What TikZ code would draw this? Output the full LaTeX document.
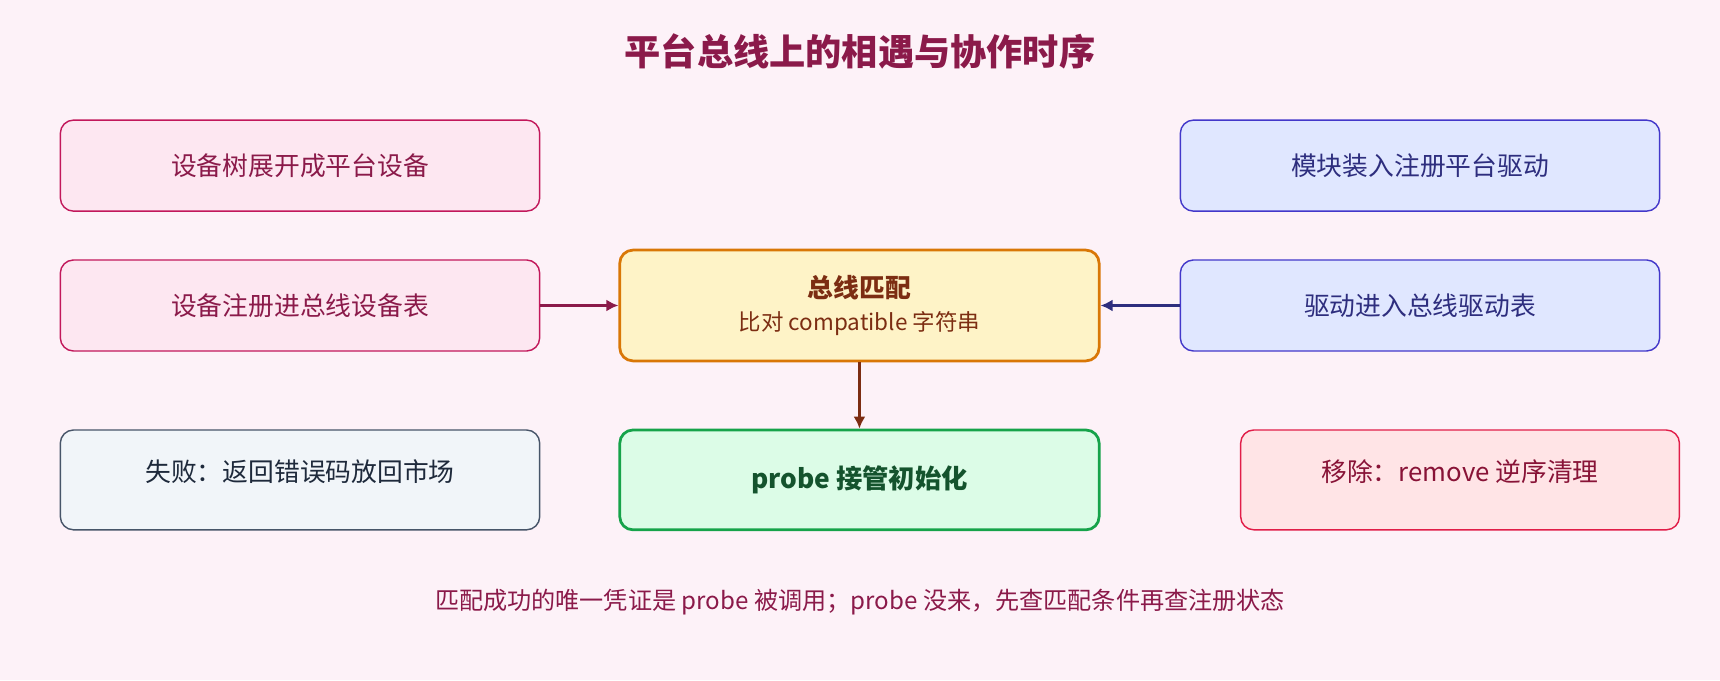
\documentclass[tikz,border=0pt]{standalone}
\usepackage{fontspec}
\setmainfont{Noto Sans CJK SC}
\usetikzlibrary{arrows.meta}
\definecolor{bg}{HTML}{FDF2F8}
\definecolor{titlec}{HTML}{8B1A4A}
\definecolor{pinkf}{HTML}{FDE7F1}\definecolor{pinkd}{HTML}{C2185B}\definecolor{pinkt}{HTML}{8B1A4A}
\definecolor{bluef}{HTML}{E0E7FF}\definecolor{blued}{HTML}{4338CA}\definecolor{bluet}{HTML}{2E2E7E}
\definecolor{yelf}{HTML}{FEF3C7}\definecolor{yeld}{HTML}{D97706}\definecolor{yelt}{HTML}{7C2D12}
\definecolor{grnf}{HTML}{DCFCE7}\definecolor{grnd}{HTML}{16A34A}\definecolor{grnt}{HTML}{14532D}
\definecolor{grayf}{HTML}{F1F5F9}\definecolor{grayd}{HTML}{475569}\definecolor{grayt}{HTML}{1E293B}
\definecolor{redf}{HTML}{FFE4E6}\definecolor{redd}{HTML}{E11D48}\definecolor{redt}{HTML}{881337}
\begin{document}
\begin{tikzpicture}[x=1pt,y=-1pt,
 box/.style={draw,rounded corners=12pt,line width=1.3pt,minimum width=437pt,minimum height=83pt,font=\fontsize{23.5}{28}\selectfont,align=center},
 pinkb/.style={box,fill=pinkf,draw=pinkd,text=pinkt},
 blueb/.style={box,fill=bluef,draw=blued,text=bluet},
 arr/.style={line width=2.5pt,-{Latex[length=11pt,width=11pt]}}]
\path[fill=bg] (0,0) rectangle (1568,620);
\node[font=\fontsize{33}{38}\selectfont\bfseries,text=titlec] (t) at (784,47) {平台总线上的相遇与协作时序};
\node[pinkb] (a) at (273.5,151) {设备树展开成平台设备};
\node[pinkb] (b) at (273.5,278.5) {设备注册进总线设备表};
\node[blueb] (c) at (1294.5,151) {模块装入注册平台驱动};
\node[blueb] (d) at (1294.5,278.5) {驱动进入总线驱动表};
\node[box,fill=yelf,draw=yeld,line width=2.5pt,minimum height=101pt,text=yelt] (m) at (783.5,278.5) {{\bfseries 总线匹配}\\[2pt]{\fontsize{20.5}{24}\selectfont 比对 compatible 字符串}};
\node[box,fill=grnf,draw=grnd,line width=2.5pt,minimum height=91pt,text=grnt,font=\fontsize{24}{28}\selectfont\bfseries] (p) at (783.5,437.5) {probe 接管初始化};
\node[box,fill=grayf,draw=grayd,minimum height=91pt] (f) at (273.5,437.5) {};
\node[text=grayt,font=\fontsize{23.5}{28}\selectfont] (ft) at (273.5,430) {失败：返回错误码放回市场};
\node[box,fill=redf,draw=redd,minimum width=400pt,minimum height=91pt] (r) at (1331,437.5) {};
\node[text=redt,font=\fontsize{23.5}{28}\selectfont] (rt) at (1331,430) {移除：remove 逆序清理};
\node[text=titlec,font=\fontsize{22}{26}\selectfont] (n) at (784,549) {匹配成功的唯一凭证是 probe 被调用；probe 没来，先查匹配条件再查注册状态};
\draw[arr,draw=titlec] (b) -- (m);
\draw[arr,draw=bluet] (d) -- (m);
\draw[arr,draw=yelt] (m) -- (p);
\end{tikzpicture}
\end{document}
